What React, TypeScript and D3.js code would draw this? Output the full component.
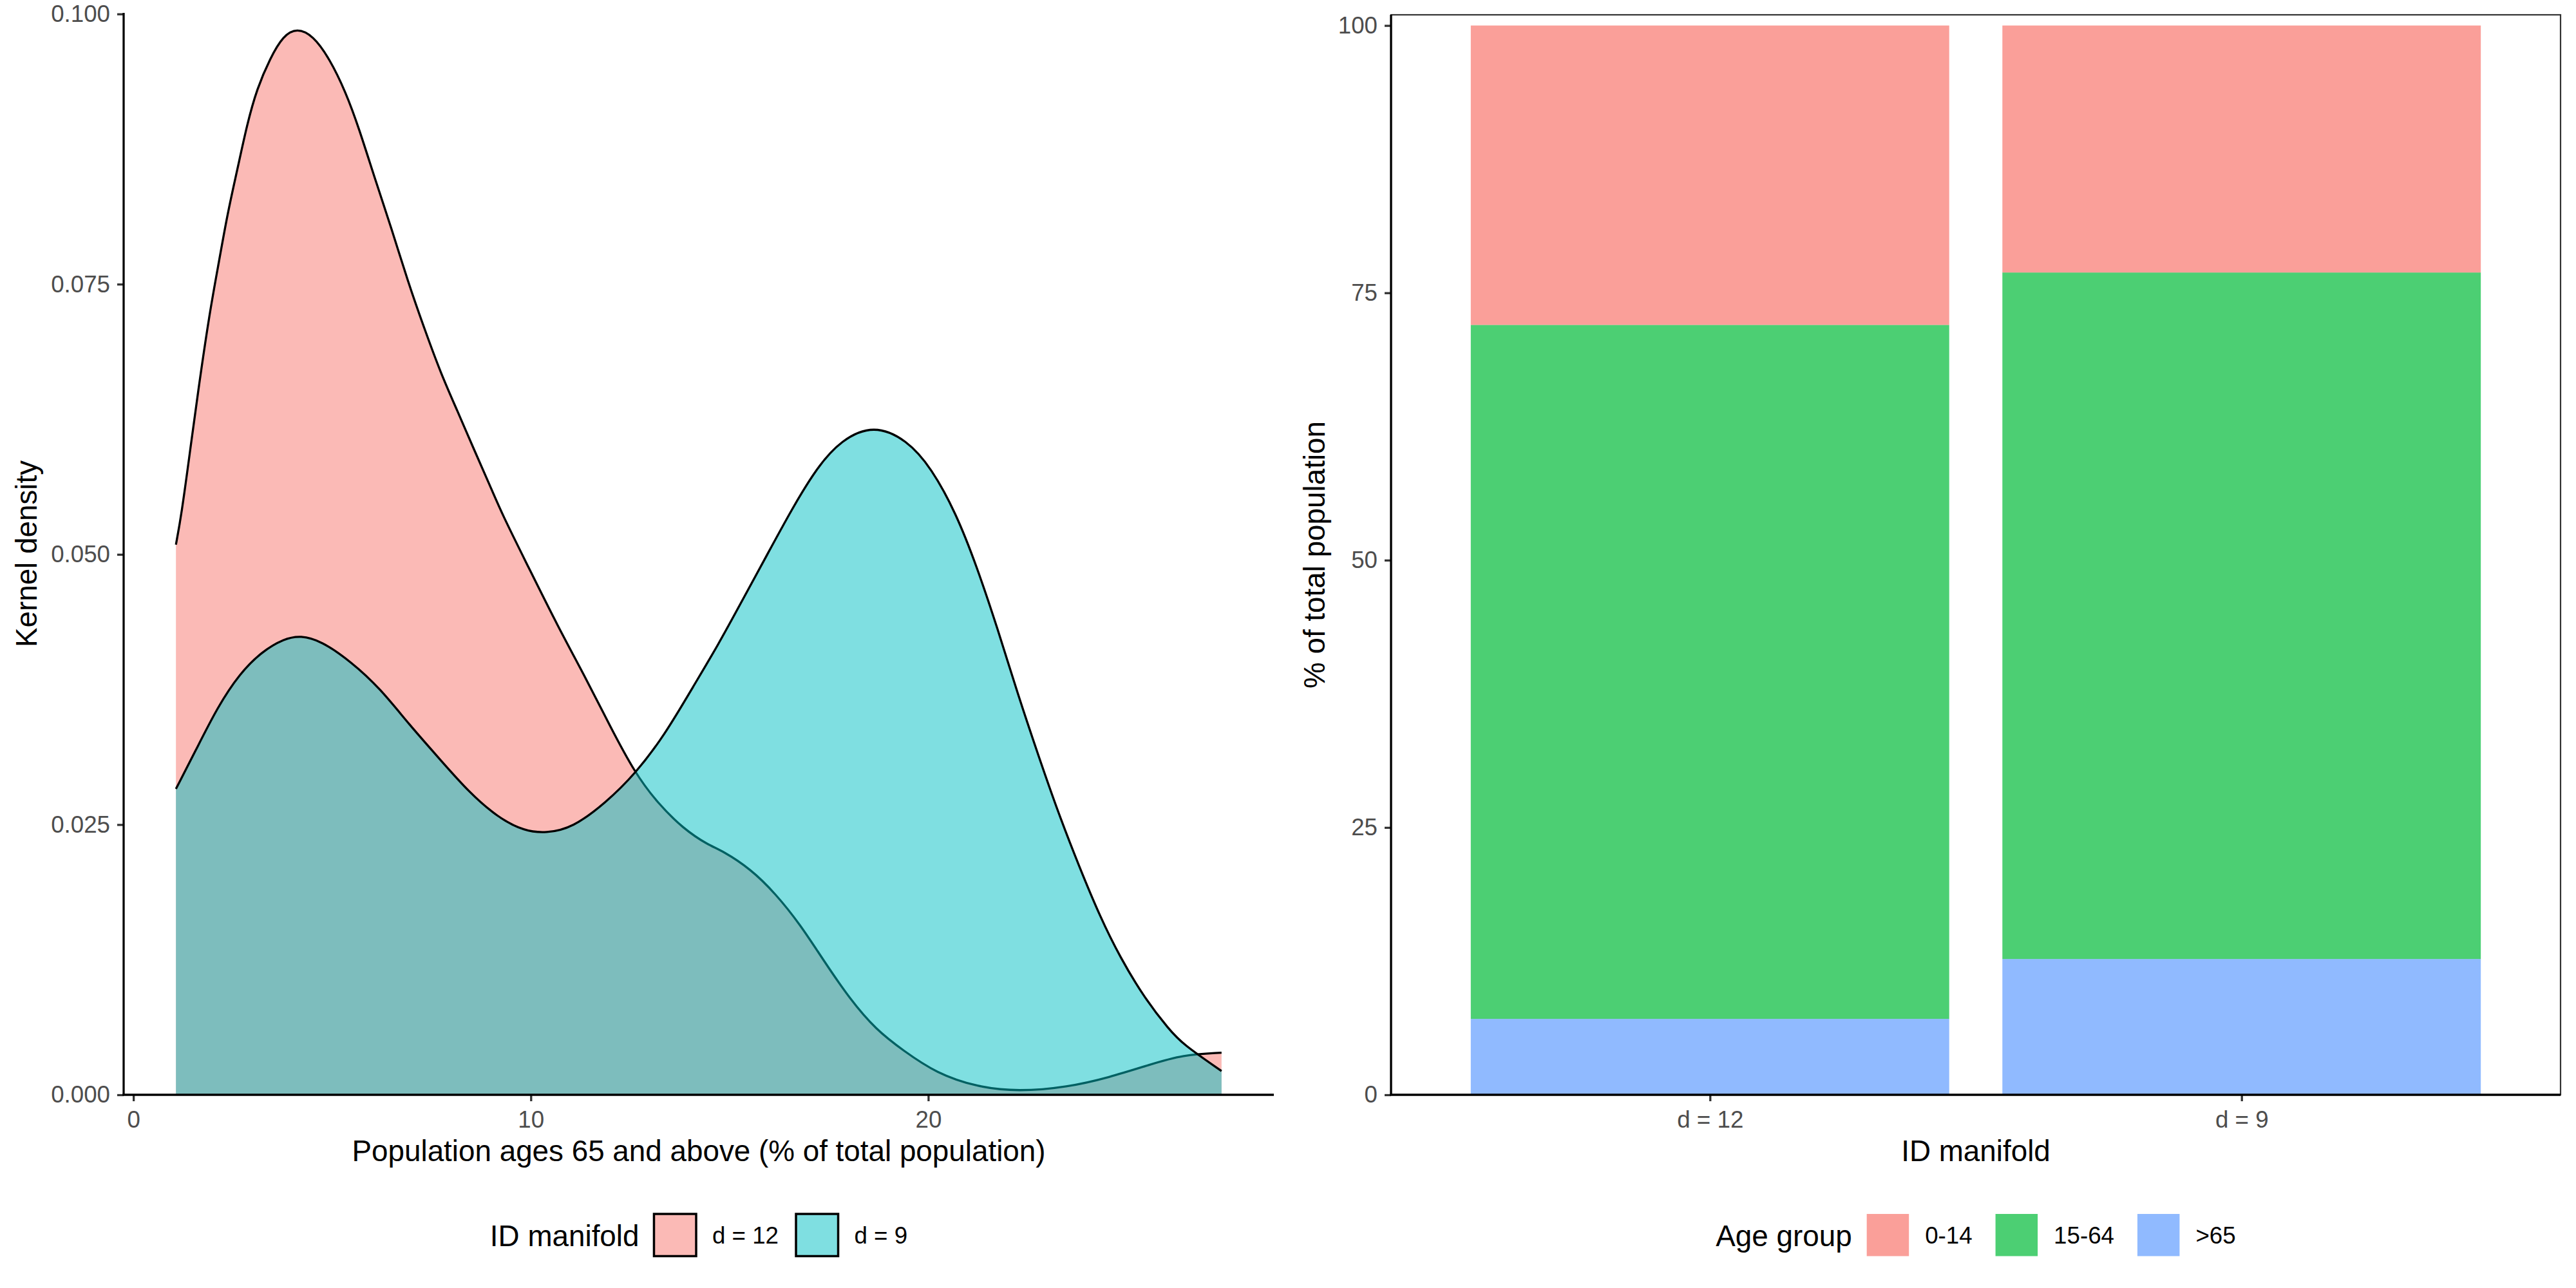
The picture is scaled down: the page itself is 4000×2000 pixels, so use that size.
import { useEffect, useRef } from 'react'
import * as d3 from 'd3'

// ---- left panel: kernel density of population 65+ by ID manifold ----
const densityGroups = ['d = 12', 'd = 9']
const densityColors = ['#F8766D', '#00BFC4']

const d12X = [1.07, 1.21, 1.42, 1.62, 1.91, 2.12, 2.37, 2.61, 2.86, 3.11, 3.44, 3.77, 4.12, 4.52, 4.93, 5.34, 5.67, 6.09, 6.5, 6.91, 7.32, 7.74, 8.15, 8.57, 8.98, 9.28, 9.93, 10.67, 11.42, 11.98, 12.63, 13.19, 13.84, 14.47, 14.81, 15.53, 16.16, 16.77, 17.39, 18.02, 18.69, 19.37, 20.2, 21.24, 22.27, 23.5, 24.55, 25.58, 26.4, 27.38]
const d12Y = [0.0509, 0.0537, 0.0594, 0.0649, 0.0722, 0.0764, 0.0816, 0.0855, 0.0898, 0.0931, 0.0959, 0.098, 0.0987, 0.098, 0.0959, 0.0928, 0.0895, 0.0846, 0.0801, 0.0752, 0.0709, 0.0667, 0.0633, 0.0597, 0.0563, 0.0537, 0.0489, 0.0434, 0.0383, 0.0342, 0.0297, 0.027, 0.0246, 0.0231, 0.0226, 0.0209, 0.0186, 0.0158, 0.0123, 0.0089, 0.006, 0.0041, 0.002, 0.0007, 0.0003, 0.0007, 0.0016, 0.0028, 0.0037, 0.0039]

const d9X = [1.07, 1.56, 2.12, 2.68, 3.23, 3.79, 4.21, 4.72, 5.47, 6.21, 6.95, 7.7, 8.44, 9.19, 9.84, 10.38, 11.05, 11.88, 12.63, 13.37, 14.09, 14.71, 15.33, 15.95, 16.57, 17.19, 17.81, 18.63, 19.46, 20.08, 20.7, 21.22, 21.74, 22.25, 22.77, 23.28, 23.8, 24.32, 24.83, 25.45, 26.07, 26.4, 27.38]
const d9Y = [0.0283, 0.0318, 0.0359, 0.039, 0.041, 0.0422, 0.0425, 0.042, 0.0401, 0.0376, 0.0342, 0.0311, 0.028, 0.0256, 0.0244, 0.0242, 0.0247, 0.027, 0.0297, 0.0333, 0.0378, 0.0416, 0.0458, 0.05, 0.0542, 0.058, 0.0606, 0.062, 0.0606, 0.058, 0.0538, 0.0489, 0.0432, 0.0371, 0.0314, 0.026, 0.0211, 0.0165, 0.0127, 0.0089, 0.006, 0.0047, 0.0022]

const densityXTicks = [0, 10, 20]
const densityYTicks = [0, 0.025, 0.05, 0.075, 0.1]

// ---- right panel: age structure by ID manifold ----
const manifolds = ['d = 12', 'd = 9']
const ageGroups = ['0-14', '15-64', '>65']
const ageColors = ['#F8766D', '#00BA38', '#619CFF']
const share0to14 = [28.0, 23.1]
const share15to64 = [64.9, 64.2]
const share65plus = [7.1, 12.7]
const shareTicks = [0, 25, 50, 75, 100]

const FONT = '"Liberation Sans", Arial, Helvetica, sans-serif'
const AXIS_TEXT = 36.7
const TITLE_TEXT = 45.8

type Pt = { x: number; y: number }

export default function App() {
  const svgRef = useRef<SVGSVGElement>(null)

  useEffect(() => {
    if (!svgRef.current) return
    const svg = d3.select(svgRef.current)
    svg.selectAll('*').remove()

    svg.append('rect').attr('width', 4000).attr('height', 2000).attr('fill', '#fff')

    const styleAxis = (sel: any) => {
      sel.select('.domain').remove()
      sel.selectAll('.tick line').attr('stroke', '#333333').attr('stroke-width', 3.3)
      sel.selectAll('.tick text')
        .attr('fill', '#4D4D4D')
        .style('font-size', AXIS_TEXT + 'px')
        .style('font-family', FONT)
    }

    const axisTitle = (text: string, x: number, y: number, rotate = false) => {
      svg.append('text')
        .attr('transform', `translate(${x},${y})${rotate ? ' rotate(-90)' : ''}`)
        .attr('text-anchor', 'middle')
        .style('font-family', FONT)
        .style('font-size', TITLE_TEXT + 'px')
        .attr('fill', '#000')
        .text(text)
    }

    // ---------- left panel ----------
    const L = { x0: 192, x1: 1978, y0: 20, y1: 1700 }
    const allX = [...d12X, ...d9X]
    const xmin = d3.min(allX) as number
    const xmax = d3.max(allX) as number
    const xpad = (xmax - xmin) * 0.05
    const x = d3.scaleLinear().domain([xmin - xpad, xmax + xpad]).range([L.x0, L.x1])
    const y = d3.scaleLinear().domain([0, 0.1001]).range([L.y1, L.y0])

    const series: Pt[][] = [
      d12X.map((v, i) => ({ x: v, y: d12Y[i] })),
      d9X.map((v, i) => ({ x: v, y: d9Y[i] }))
    ]
    const area = d3.area<Pt>().x(d => x(d.x)).y0(y(0)).y1(d => y(d.y)).curve(d3.curveBasis)
    const line = d3.line<Pt>().x(d => x(d.x)).y(d => y(d.y)).curve(d3.curveBasis)

    series.forEach((s, i) => {
      svg.append('path').attr('d', area(s)).attr('fill', densityColors[i]).attr('fill-opacity', 0.5)
      svg.append('path').attr('d', line(s))
        .attr('fill', 'none').attr('stroke', '#000').attr('stroke-width', 3.3)
        .attr('stroke-linejoin', 'round')
    })

    svg.append('g').attr('transform', `translate(${L.x0},0)`)
      .call(d3.axisLeft(y).tickValues(densityYTicks).tickFormat(d3.format('.3f')).tickSize(10).tickPadding(11))
      .call(styleAxis)
    svg.append('g').attr('transform', `translate(0,${L.y1})`)
      .call(d3.axisBottom(x).tickValues(densityXTicks).tickFormat(d3.format('d')).tickSize(10).tickPadding(15))
      .call(styleAxis)

    svg.append('line').attr('x1', L.x0).attr('x2', L.x0).attr('y1', L.y0).attr('y2', L.y1)
      .attr('stroke', '#000').attr('stroke-width', 3.3)
    svg.append('line').attr('x1', L.x0 - 1.6).attr('x2', L.x1).attr('y1', L.y1).attr('y2', L.y1)
      .attr('stroke', '#000').attr('stroke-width', 3.3)

    axisTitle('Kernel density', 57, (L.y0 + L.y1) / 2, true)
    axisTitle('Population ages 65 and above (% of total population)', (L.x0 + L.x1) / 2, 1803)

    // ---------- right panel ----------
    const R = { x0: 2160, x1: 3976, y0: 23, y1: 1700 }
    const xb = d3.scalePoint<string>().domain(manifolds).range([R.x0, R.x1]).padding(0.6)
    const barW = xb.step() * 0.9
    const yb = d3.scaleLinear().domain([0, 101]).range([R.y1, R.y0])

    const rows = manifolds.map((m, i) => ({
      manifold: m,
      '0-14': share0to14[i],
      '15-64': share15to64[i],
      '>65': share65plus[i]
    }))
    const stacked = d3.stack<any>().keys(['>65', '15-64', '0-14'])(rows)

    stacked.forEach(layer => {
      const color = ageColors[ageGroups.indexOf(layer.key)]
      svg.append('g').selectAll('rect')
        .data(layer)
        .enter()
        .append('rect')
        .attr('x', (d: any) => (xb(d.data.manifold) as number) - barW / 2)
        .attr('width', barW)
        .attr('y', (d: any) => yb(d[1]))
        .attr('height', (d: any) => yb(d[0]) - yb(d[1]))
        .attr('fill', color)
        .attr('fill-opacity', 0.7)
    })

    svg.append('rect')
      .attr('x', R.x0).attr('y', R.y0)
      .attr('width', R.x1 - R.x0).attr('height', R.y1 - R.y0)
      .attr('fill', 'none').attr('stroke', '#333333').attr('stroke-width', 2.2)

    svg.append('g').attr('transform', `translate(${R.x0},0)`)
      .call(d3.axisLeft(yb).tickValues(shareTicks).tickFormat(d3.format('d')).tickSize(10).tickPadding(11))
      .call(styleAxis)
    svg.append('g').attr('transform', `translate(0,${R.y1})`)
      .call(d3.axisBottom(xb).tickSize(10).tickPadding(15))
      .call(styleAxis)

    svg.append('line').attr('x1', R.x0).attr('x2', R.x0).attr('y1', R.y0).attr('y2', R.y1)
      .attr('stroke', '#000').attr('stroke-width', 3.3)
    svg.append('line').attr('x1', R.x0 - 1.6).attr('x2', R.x1).attr('y1', R.y1).attr('y2', R.y1)
      .attr('stroke', '#000').attr('stroke-width', 3.3)

    axisTitle('% of total population', 2057, (R.y0 + R.y1) / 2, true)
    axisTitle('ID manifold', (R.x0 + R.x1) / 2, 1803)

    // ---------- legends ----------
    const legend = (
      cx: number, title: string, labels: string[], colors: string[],
      opacity: number, border: boolean, gapLabel: number
    ) => {
      const g = svg.append('g')
      const t = g.append('text').attr('x', 0).attr('y', 1935)
        .style('font-family', FONT).style('font-size', TITLE_TEXT + 'px').text(title)
      let cursor = (t.node() as SVGTextElement).getComputedTextLength() + 23
      labels.forEach((lab, i) => {
        const r = g.append('rect').attr('x', cursor).attr('y', 1885)
          .attr('width', 65.5).attr('height', 65.5)
          .attr('fill', colors[i]).attr('fill-opacity', opacity)
        if (border) r.attr('stroke', '#000').attr('stroke-width', 3.5)
        cursor += 65.5 + 25
        const lt = g.append('text').attr('x', cursor).attr('y', 1931)
          .style('font-family', FONT).style('font-size', AXIS_TEXT + 'px').attr('fill', '#000').text(lab)
        cursor += (lt.node() as SVGTextElement).getComputedTextLength()
        if (i < labels.length - 1) cursor += gapLabel
      })
      g.attr('transform', `translate(${cx - cursor / 2},0)`)
    }

    legend((L.x0 + L.x1) / 2, 'ID manifold', densityGroups, densityColors, 0.5, true, 27)
    legend((R.x0 + R.x1) / 2, 'Age group', ageGroups, ageColors, 0.7, false, 36)
  }, [])

  return (
    <div style={{ position: 'absolute', left: 0, top: 0 }}>
      <svg ref={svgRef} width={4000} height={2000} style={{ display: 'block' }} />
    </div>
  )
}
